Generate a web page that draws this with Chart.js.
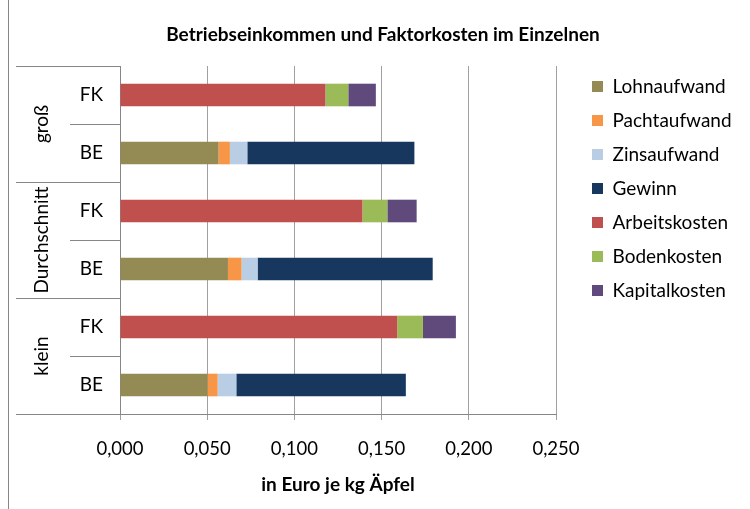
<!DOCTYPE html>
<html>
<head>
<meta charset="utf-8">
<script src="https://cdn.jsdelivr.net/npm/chart.js@4/dist/chart.umd.min.js"></script>
<style>
  html, body { margin: 0; padding: 0; background: #fff; }
  #wrap { width: 750px; height: 509px; position: relative; }
</style>
</head>
<body>
<div id="wrap"><canvas id="myChart"></canvas></div>
<script>
// categories (top to bottom) and their groups
const barLabels = ["FK", "BE", "FK", "BE", "FK", "BE"];
const groupLabels = ["groß", "Durchschnitt", "klein"];

// series, Euro je kg
const lohnaufwand   = [null, 0.0565, null, 0.0619, null, 0.0502];
const pachtaufwand  = [null, 0.0065, null, 0.0078, null, 0.0058];
const zinsaufwand   = [null, 0.0100, null, 0.0092, null, 0.0107];
const gewinn        = [null, 0.0958, null, 0.1004, null, 0.0972];
const arbeitskosten = [0.1178, null, 0.1390, null, 0.1590, null];
const bodenkosten   = [0.0131, null, 0.0143, null, 0.0147, null];
const kapitalkosten = [0.0158, null, 0.0168, null, 0.0189, null];

const xTickLabels = ["0,000", "0,050", "0,100", "0,150", "0,200", "0,250"];

const FONT = "Lato";
const AXIS = "#868686";
const GRID = "#a0a0a0";

function ds(label, data, color) {
  return {
    label: label,
    data: data,
    backgroundColor: color,
    borderWidth: 0,
    categoryPercentage: 1,
    barPercentage: 0.39,
  };
}

const data = {
  labels: barLabels,
  datasets: [
    ds("Lohnaufwand", lohnaufwand, "#948A54"),
    ds("Pachtaufwand", pachtaufwand, "#F79646"),
    ds("Zinsaufwand", zinsaufwand, "#B9CDE5"),
    ds("Gewinn", gewinn, "#17375E"),
    ds("Arbeitskosten", arbeitskosten, "#C0504D"),
    ds("Bodenkosten", bodenkosten, "#9BBB59"),
    ds("Kapitalkosten", kapitalkosten, "#604A7B"),
  ],
};

// frame line, category table lines and rotated group labels
const categoryTable = {
  id: "categoryTable",
  afterLayout(chart) {
    // push the legend a bit away from the plot and up
    const L = chart.legend;
    const dx = chart.chartArea.right + 21 - L.left;
    L.left += dx;
    L.right += dx;
    L.top -= 4;
    L.bottom -= 4;
  },
  afterDraw(chart) {
    const ctx = chart.ctx;
    const y = chart.scales.y;
    const area = chart.chartArea;
    const mid = (k) => (y.getPixelForTick(k) + y.getPixelForTick(k + 1)) / 2;
    ctx.save();
    ctx.strokeStyle = AXIS;
    ctx.lineWidth = 1;
    ctx.beginPath();
    ctx.moveTo(8.5, 0);
    ctx.lineTo(8.5, chart.height);
    ctx.moveTo(16, Math.round(area.top) + 0.5);
    ctx.lineTo(area.left, Math.round(area.top) + 0.5);
    ctx.moveTo(16, Math.round(area.bottom) + 0.5);
    ctx.lineTo(area.left, Math.round(area.bottom) + 0.5);
    for (let k = 0; k < barLabels.length - 1; k++) {
      const yy = Math.round(mid(k)) + 0.5;
      ctx.moveTo(k % 2 === 1 ? 16 : 70, yy);
      ctx.lineTo(area.left, yy);
    }
    ctx.stroke();

    ctx.fillStyle = "#000";
    ctx.font = "19px " + FONT;
    ctx.textAlign = "center";
    ctx.textBaseline = "middle";
    groupLabels.forEach((g, i) => {
      const cy = (y.getPixelForTick(2 * i) + y.getPixelForTick(2 * i + 1)) / 2;
      ctx.save();
      ctx.translate(42, cy);
      ctx.rotate(-Math.PI / 2);
      ctx.fillText(g, 0, 0);
      ctx.restore();
    });
    ctx.restore();
  },
};

const config = {
  type: "bar",
  data: data,
  options: {
    indexAxis: "y",
    responsive: true,
    maintainAspectRatio: false,
    animation: false,
    layout: { padding: { left: 16, right: 0, top: 0, bottom: 0 } },
    scales: {
      x: {
        stacked: true,
        min: 0,
        max: 0.25,
        afterFit(s) {
          s.height = 95;
          s.paddingRight = 194;
        },
        ticks: {
          stepSize: 0.05,
          padding: 18,
          color: "#000",
          font: { family: FONT, size: 18.5 },
          callback: (v, i) => xTickLabels[i],
        },
        grid: { color: GRID, tickLength: 6, tickColor: GRID },
        border: { color: AXIS },
        title: {
          display: true,
          text: "in Euro je kg Äpfel",
          color: "#000",
          font: { family: FONT, size: 19, weight: "bold" },
          padding: { top: 10, bottom: 13 },
        },
      },
      y: {
        stacked: true,
        afterFit(s) { s.width = 104; },
        grid: { display: false },
        border: { color: AXIS },
        ticks: {
          padding: 9,
          color: "#000",
          font: { family: FONT, size: 19 },
        },
      },
    },
    plugins: {
      title: {
        display: true,
        text: "Betriebseinkommen und Faktorkosten im Einzelnen",
        color: "#000",
        font: { family: FONT, size: 19, weight: "bold" },
        padding: { top: 23.6, bottom: 19.6 },
      },
      legend: {
        position: "right",
        align: "start",
        fullSize: false,
        labels: {
          boxWidth: 11,
          boxHeight: 11,
          padding: 15,
          color: "#000",
          font: { family: FONT, size: 19 },
        },
      },
      tooltip: { enabled: false },
    },
  },
  plugins: [categoryTable],
};

const myChart = new Chart(document.querySelector("#myChart"), config);
</script>
</body>
</html>
